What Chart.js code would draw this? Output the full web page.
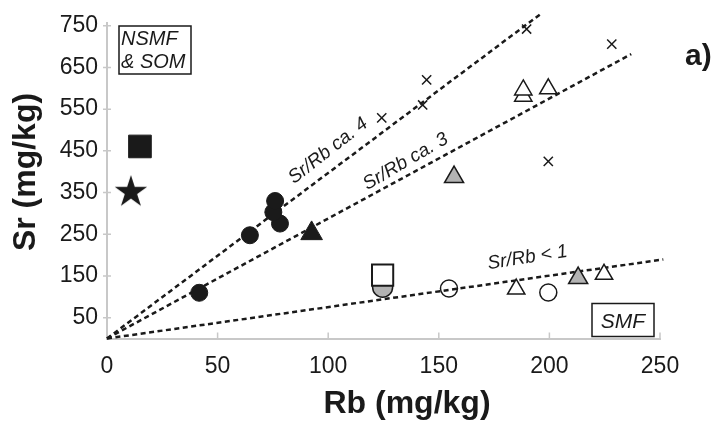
<!DOCTYPE html>
<html>
<head>
<meta charset="utf-8">
<script src="https://cdn.jsdelivr.net/npm/chart.js@4.4.1/dist/chart.umd.min.js"></script>
<style>
  html, body { margin: 0; padding: 0; background: #fff; }
</style>
</head>
<body>
<canvas id="myChart" width="717" height="428"></canvas>
<script>
// tick labels
const xTicks = [0, 50, 100, 150, 200, 250];
const yTicks = [50, 150, 250, 350, 450, 550, 650, 750];

// Sr/Rb reference lines (start at origin)
const ratio4Rb = [0, 196];
const ratio4Sr = [0, 778];
const ratio3Rb = [0, 237];
const ratio3Sr = [0, 682];
const ratio1Rb = [0, 251.5];
const ratio1Sr = [0, 189.5];

// samples
const blackCircleRb = [41.7, 64.6, 78.2, 75.2, 76];
const blackCircleSr = [109.6, 247.6, 275.6, 303, 329.7];
const blackTriRb = [92.5];
const blackTriSr = [252];
const starRb = [10.8];
const starSr = [351];
const blackSquareRb = [14.9];
const blackSquareSr = [460.5];
const crossRb = [189.7, 228.2, 144.5, 142.7, 124.2, 199.5];
const crossSr = [742, 706, 620, 560, 529, 424.6];
const openTriRb = [188.2, 188.2, 199.5, 185, 224.7];
const openTriSr = [581, 596, 598.6, 118.4, 154];
const grayTriRb = [156.9, 213];
const grayTriSr = [387, 145];
const openSquareRb = [124.6];
const openSquareSr = [152];
const grayCircleRb = [124.6];
const grayCircleSr = [123];
const openCircleRb = [154.6, 199.5];
const openCircleSr = [120, 110.5];

const FONT = '"Liberation Sans", Arial, Helvetica, sans-serif';
const AXIS_GRAY = '#c8c8c8';
const INK = '#1a1a1a';

function pts(xs, ys) {
    return xs.map((v, i) => ({ x: v, y: ys[i] }));
}

// filled five point star, used as a point style
function makeStar(R) {
    const c = document.createElement('canvas');
    const s = Math.ceil(R * 2 + 2);
    c.width = s; c.height = s;
    const g = c.getContext('2d');
    g.fillStyle = INK;
    g.beginPath();
    for (let i = 0; i < 10; i++) {
        const r = i % 2 === 0 ? R : R * 0.382;
        const a = -Math.PI / 2 + i * Math.PI / 5;
        const px = s / 2 + r * Math.cos(a);
        const py = s / 2 + r * Math.sin(a);
        if (i === 0) g.moveTo(px, py); else g.lineTo(px, py);
    }
    g.closePath();
    g.fill();
    return c;
}

function refLine(xs, ys) {
    return {
        data: pts(xs, ys),
        showLine: true,
        borderColor: INK,
        borderWidth: 2.5,
        borderDash: [5, 3.5],
        pointRadius: 0,
        clip: false,
        order: 10
    };
}

const sketchPlugin = {
    id: 'sketch',
    beforeDatasetsDraw(chart) {
        const ctx = chart.ctx;
        const xs = chart.scales.x, ys = chart.scales.y;
        const { left, bottom } = chart.chartArea;
        ctx.save();
        ctx.strokeStyle = AXIS_GRAY;
        ctx.lineWidth = 1.5;
        ctx.beginPath();
        yTicks.forEach(v => {
            const py = ys.getPixelForValue(v);
            ctx.moveTo(left - 4, py);
            ctx.lineTo(left + 4, py);
        });
        xTicks.forEach(v => {
            const px = xs.getPixelForValue(v);
            ctx.moveTo(px, bottom);
            ctx.lineTo(px, bottom - 6);
        });
        ctx.stroke();
        ctx.restore();
    },
    afterDraw(chart) {
        const ctx = chart.ctx;
        const xs = chart.scales.x, ys = chart.scales.y;
        ctx.save();
        ctx.fillStyle = INK;

        // axis titles
        ctx.font = 'bold 32px ' + FONT;
        ctx.textAlign = 'center';
        ctx.textBaseline = 'alphabetic';
        ctx.fillText('Rb (mg/kg)', 407, 413);
        ctx.save();
        ctx.translate(26, 172);
        ctx.rotate(-Math.PI / 2);
        ctx.textBaseline = 'middle';
        ctx.fillText('Sr (mg/kg)', 0, 0);
        ctx.restore();

        // panel letter
        ctx.font = 'bold 30px ' + FONT;
        ctx.textAlign = 'left';
        ctx.textBaseline = 'alphabetic';
        ctx.fillText('a)', 685, 65);

        // ratio labels along the lines
        ctx.font = 'italic 19px ' + FONT;
        ctx.textAlign = 'center';
        ctx.textBaseline = 'middle';
        [['Sr/Rb ca. 4', 100, 450, -38],
         ['Sr/Rb ca. 3', 135, 424, -30.5],
         ['Sr/Rb < 1', 190.1, 194, -9]].forEach(([t, vx, vy, a]) => {
            ctx.save();
            ctx.translate(xs.getPixelForValue(vx), ys.getPixelForValue(vy));
            ctx.rotate(a * Math.PI / 180);
            ctx.fillText(t, 0, 0);
            ctx.restore();
        });

        // boxed group labels
        ctx.strokeStyle = INK;
        ctx.lineWidth = 1.5;
        ctx.fillStyle = '#fff';
        ctx.fillRect(119, 26, 72, 48);
        ctx.strokeRect(119, 26, 72, 48);
        ctx.fillRect(592, 303.5, 62, 33);
        ctx.strokeRect(592, 303.5, 62, 33);
        ctx.fillStyle = INK;
        ctx.font = 'italic 20px ' + FONT;
        ctx.textAlign = 'left';
        ctx.textBaseline = 'alphabetic';
        ctx.fillText('NSMF', 121, 45);
        ctx.fillText('& SOM', 121, 68);
        ctx.textAlign = 'center';
        ctx.font = 'italic 21px ' + FONT;
        ctx.fillText('SMF', 623, 328);
        ctx.restore();
    }
};

const ctx = document.getElementById('myChart').getContext('2d');

const myChart = new Chart(ctx, {
    type: 'scatter',
    data: {
        datasets: [
            refLine(ratio4Rb, ratio4Sr),
            refLine(ratio3Rb, ratio3Sr),
            refLine(ratio1Rb, ratio1Sr),
            {
                data: pts(grayCircleRb, grayCircleSr),
                pointStyle: 'circle', pointRadius: 10,
                backgroundColor: '#b3b3b3', borderColor: INK, borderWidth: 1.5,
                order: 5
            },
            {
                data: pts(openSquareRb, openSquareSr),
                pointStyle: 'rect', pointRadius: 15,
                backgroundColor: '#fff', borderColor: INK, borderWidth: 2,
                order: 4
            },
            {
                data: pts(blackCircleRb, blackCircleSr),
                pointStyle: 'circle', pointRadius: 8.5,
                backgroundColor: INK, borderColor: INK, borderWidth: 1
            },
            {
                data: pts(blackTriRb, blackTriSr),
                pointStyle: 'triangle', pointRadius: 12.5,
                backgroundColor: INK, borderColor: INK, borderWidth: 1
            },
            {
                data: pts(blackSquareRb, blackSquareSr),
                pointStyle: 'rect', pointRadius: 16,
                backgroundColor: INK, borderColor: INK, borderWidth: 1
            },
            {
                data: pts(starRb, starSr),
                pointStyle: makeStar(17), pointRadius: 17
            },
            {
                data: pts(crossRb, crossSr),
                pointStyle: 'crossRot', pointRadius: 6.5,
                borderColor: INK, borderWidth: 1.5
            },
            {
                data: pts(openTriRb, openTriSr),
                pointStyle: 'triangle', pointRadius: 10,
                backgroundColor: '#fff', borderColor: INK, borderWidth: 1.5
            },
            {
                data: pts(grayTriRb, grayTriSr),
                pointStyle: 'triangle', pointRadius: 11,
                backgroundColor: '#b3b3b3', borderColor: INK, borderWidth: 1.5
            },
            {
                data: pts(openCircleRb, openCircleSr),
                pointStyle: 'circle', pointRadius: 8.5,
                backgroundColor: 'rgba(0,0,0,0)', borderColor: INK, borderWidth: 1.5
            }
        ]
    },
    options: {
        responsive: false,
        animation: false,
        events: [],
        layout: { padding: { top: 22, right: 57, left: 0, bottom: 0 } },
        scales: {
            x: {
                type: 'linear',
                min: 0,
                max: 250,
                afterFit: (scale) => { scale.height = 89.5; },
                afterBuildTicks: (scale) => { scale.ticks = xTicks.map(v => ({ value: v })); },
                grid: { display: false, drawTicks: false },
                border: { display: true, color: AXIS_GRAY, width: 2 },
                ticks: {
                    padding: 14,
                    color: INK,
                    font: { family: FONT, size: 23 },
                    maxRotation: 0
                }
            },
            y: {
                type: 'linear',
                min: 0,
                max: 757,
                afterFit: (scale) => { scale.width = 107; },
                afterBuildTicks: (scale) => { scale.ticks = yTicks.map(v => ({ value: v })); },
                grid: { display: false, drawTicks: false },
                border: { display: true, color: AXIS_GRAY, width: 2 },
                ticks: {
                    padding: 9,
                    color: INK,
                    font: { family: FONT, size: 23 }
                }
            }
        },
        plugins: {
            legend: { display: false },
            tooltip: { enabled: false }
        }
    },
    plugins: [sketchPlugin]
});
</script>
</body>
</html>
